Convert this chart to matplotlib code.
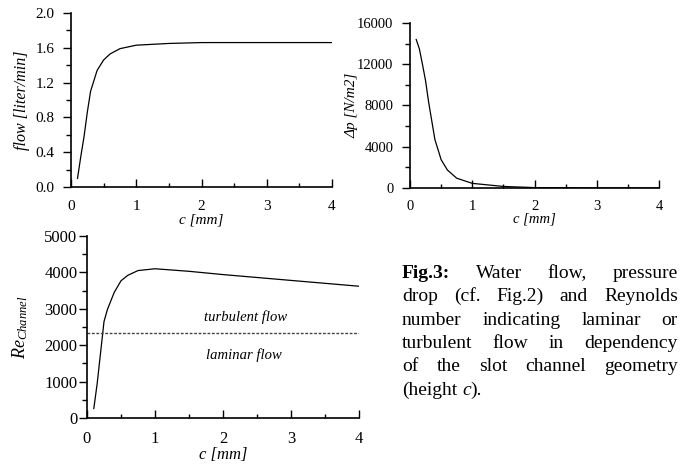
import matplotlib
matplotlib.use("Agg")
import matplotlib.pyplot as plt

plt.rcParams['font.family'] = ['Liberation Serif', 'DejaVu Serif']
plt.rcParams['mathtext.fontset'] = 'custom'
plt.rcParams['mathtext.rm'] = 'Liberation Serif'
plt.rcParams['mathtext.it'] = 'Liberation Serif:italic'

# data
c_flow = [0.1, 0.15, 0.2, 0.25, 0.3, 0.4, 0.5, 0.6, 0.75, 1.0, 1.5, 2.0, 3.0, 4.0]
flow = [0.10, 0.35, 0.58, 0.86, 1.10, 1.34, 1.46, 1.53, 1.59, 1.63, 1.65, 1.66, 1.66, 1.66]

c_dp = [0.1, 0.15, 0.2, 0.25, 0.3, 0.4, 0.5, 0.6, 0.75, 1.0, 1.5, 2.0, 3.0, 4.0]
dp = [14400, 13500, 12000, 10400, 8300, 4700, 2750, 1750, 950, 450, 150, 40, 10, 5]

c_re = [0.1, 0.15, 0.2, 0.25, 0.3, 0.4, 0.5, 0.6, 0.75, 1.0, 1.5, 2.0, 2.5, 3.0, 3.5, 4.0]
re = [260, 950, 1800, 2650, 2980, 3450, 3770, 3920, 4050, 4100, 4030, 3940, 3860, 3780, 3700, 3620]
re_crit = 2335

x_ticks = [0, 1, 2, 3, 4]

W, H = 685, 465
fig = plt.figure(figsize=(W / 100, H / 100), dpi=100)

ax1 = fig.add_axes([71 / W, 1 - 187 / H, 261 / W, 174 / H])
ax2 = fig.add_axes([410 / W, 1 - 188 / H, 249 / W, 165 / H])
ax3 = fig.add_axes([87 / W, 1 - 418 / H, 272 / W, 182 / H])


def style(ax, ylim, ymajor, yminor, ylabel, ylx, ypad, fs, lfs, xfs):
    ax.set_xlim(0, 4)
    ax.set_ylim(*ylim)
    ax.set_xticks(x_ticks)
    ax.set_xticks([0.5, 1.5, 2.5, 3.5], minor=True)
    ax.set_yticks(ymajor)
    ax.set_yticks(yminor, minor=True)
    for s in ['top', 'right']:
        ax.spines[s].set_visible(False)
    for s in ['left', 'bottom']:
        ax.spines[s].set_linewidth(1.2)
    ax.tick_params(axis='x', which='major', direction='in', length=6, width=1, pad=9, labelsize=xfs)
    ax.tick_params(axis='x', which='minor', direction='in', length=3, width=1)
    ax.tick_params(axis='y', which='major', direction='out', length=6, width=1, pad=ypad, labelsize=fs)
    ax.tick_params(axis='y', which='minor', direction='out', length=3.5, width=1)
    ax.set_xlabel('c [mm]', style='italic', fontsize=xfs)
    ax.set_ylabel(ylabel, style='italic', fontsize=lfs)
    ax.yaxis.set_label_coords(ylx, 0.5)
    ax.yaxis.label.set_va('center')


ax1.plot(c_flow, flow, color='black', lw=0.9)
style(ax1, (0, 2.0), [0, 0.4, 0.8, 1.2, 1.6, 2.0], [0.2, 0.6, 1.0, 1.4, 1.8],
      'flow [liter/min]', -0.188, 6, 11, 11.5, 11)
ax1.set_yticklabels(['0.0', '0.4', '0.8', '1.2', '1.6', '2.0'])
ax1.xaxis.set_label_coords(0.5, -0.19)
ax1.xaxis.label.set_va('center')

ax2.plot(c_dp, dp, color='black', lw=0.9)
style(ax2, (0, 16000), [0, 4000, 8000, 12000, 16000], [2000, 6000, 10000, 14000],
      '\u0394p [N/m2]', -0.233, 6, 10.5, 11, 10.5)
ax2.xaxis.set_label_coords(0.5, -0.19)
ax2.xaxis.label.set_va('center')

ax3.plot(c_re, re, color='black', lw=0.9)
ax3.axhline(re_crit, color='#444444', lw=1, ls=(0, (2, 1.2)))
style(ax3, (0, 5000), [0, 1000, 2000, 3000, 4000, 5000], [500, 1500, 2500, 3500, 4500],
      r'$Re_{Channel}$', -0.245, 1, 12, 13, 12)
ax3.xaxis.set_label_coords(0.5, -0.205)
ax3.xaxis.label.set_va('center')
ax3.text(2.33, 2775, 'turbulent flow', style='italic', fontsize=10.5, ha='center', va='center')
ax3.text(2.31, 1720, 'laminar flow', style='italic', fontsize=10.5, ha='center', va='center')

# justified caption
renderer = fig.canvas.get_renderer()
cap_fs = 14
left, right = 402, 678
y0, dy = 278, 23.3


def word(s, y, weight='normal', fstyle='normal'):
    return fig.text(0, 1 - y / H, s, fontsize=cap_fs, weight=weight, style=fstyle,
                    va='baseline', ha='left')


def width(t):
    return t.get_window_extent(renderer).width


sp_a = fig.text(0, 0, 'a a', fontsize=cap_fs)
sp_b = fig.text(0, 0, 'aa', fontsize=cap_fs)
space = width(sp_a) - width(sp_b)
sp_a.remove()
sp_b.remove()

lines = [
    [('Fig.3:', 'bold'), ('Water', None), ('flow,', None), ('pressure', None)],
    [('drop', None), ('(cf.', None), ('Fig.2)', None), ('and', None), ('Reynolds', None)],
    [('number', None), ('indicating', None), ('laminar', None), ('or', None)],
    [('turbulent', None), ('flow', None), ('in', None), ('dependency', None)],
    [('of', None), ('the', None), ('slot', None), ('channel', None), ('geometry', None)],
]

for i, ln in enumerate(lines):
    y = y0 + i * dy
    ts = [word(s, y, weight='bold' if w == 'bold' else 'normal') for s, w in ln]
    ws = [width(t) for t in ts]
    gap = (right - left - sum(ws)) / (len(ts) - 1)
    x = left
    for t, w in zip(ts, ws):
        t.set_x(x / W)
        x += w + gap

# last line, left aligned
y = y0 + 5 * dy
x = left
for s, st, g in [('(height', 'normal', space), ('c', 'italic', 0), (').', 'normal', 0)]:
    t = word(s, y, fstyle=st)
    t.set_x(x / W)
    x += width(t) + g

fig.savefig('out.png', dpi=100)
